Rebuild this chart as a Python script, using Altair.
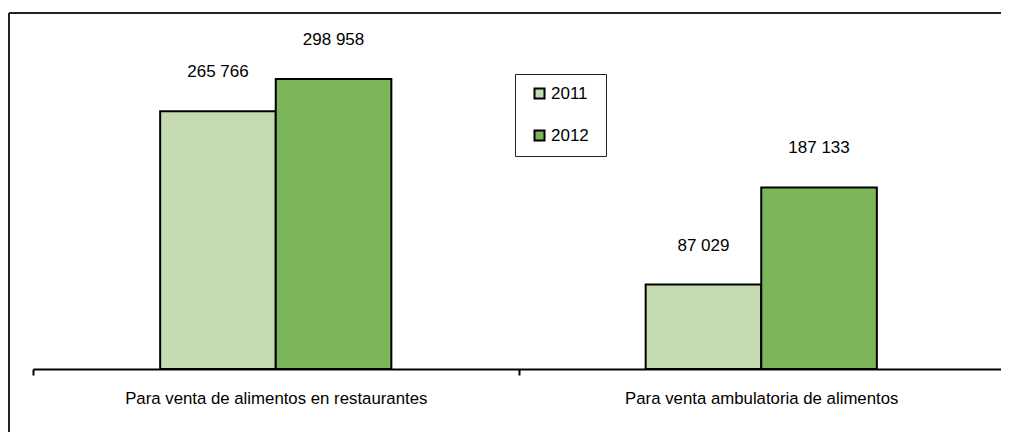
import altair as alt
import pandas as pd

categories = ["Para venta de alimentos en restaurantes", "Para venta ambulatoria de alimentos"]
years = ["2011", "2012"]
values_2011 = [265766, 87029]
values_2012 = [298958, 187133]
labels_2011 = ["265 766", "87 029"]
labels_2012 = ["298 958", "187 133"]

rows = []
for i, c in enumerate(categories):
    rows.append({"cat": c, "year": "2011", "value": values_2011[i], "label": labels_2011[i]})
    rows.append({"cat": c, "year": "2012", "value": values_2012[i], "label": labels_2012[i]})
df = pd.DataFrame(rows)

FONT = "Liberation Sans"
W, H = 992, 419
offset_domain = ["_l"] + years + ["_r"]

x_scale = alt.Scale(range=[24, 995], paddingInner=0, paddingOuter=0)
xo_scale = alt.Scale(domain=offset_domain, paddingInner=0, paddingOuter=0.1)
y_scale = alt.Scale(domain=[0, 367000], range=[356, 0], nice=False, zero=True)

x_enc = alt.X("cat:N", sort=categories, title=None, scale=x_scale,
              axis=alt.Axis(orient="bottom", offset=-63, tickBand="extent", labelAngle=0,
                            domainColor="black", domainWidth=2, tickColor="black", tickWidth=2,
                            tickSize=6, labelPadding=15, labelFont=FONT, labelFontSize=16.8,
                            labelColor="black", labelLimit=500, grid=False))
xo_enc = alt.XOffset("year:N", scale=xo_scale)
y_enc = alt.Y("value:Q", axis=None, scale=y_scale)

bars = alt.Chart(df).mark_bar(stroke="black", strokeWidth=2).encode(
    x=x_enc, xOffset=xo_enc, y=y_enc,
    color=alt.Color("year:N", sort=years,
                    scale=alt.Scale(domain=years, range=["#C4DBB2", "#7DB65A"]),
                    legend=alt.Legend(title="\u00a0", titleOrient="right", titlePadding=6,
                                      titleFontSize=2, titleColor="white",
                                      orient="none", legendX=506, legendY=61,
                                      fillColor="white", strokeColor="#222222",
                                      padding=11, symbolOffset=5, symbolType="square",
                                      symbolSize=100, symbolStrokeWidth=2,
                                      symbolStrokeColor="black", labelFont=FONT,
                                      labelFontSize=17, labelColor="black", labelOffset=3,
                                      rowPadding=23)),
)

text = alt.Chart(df).mark_text(font=FONT, fontSize=17, color="black",
                               baseline="middle", dy=-39).encode(
    x=alt.X("cat:N", sort=categories, scale=x_scale),
    xOffset=alt.XOffset("year:N", scale=xo_scale),
    y=alt.Y("value:Q", scale=y_scale), text="label:N")

frame_left = alt.Chart(df).mark_rule(color="#222222", strokeWidth=2).encode(
    x=alt.value(0), y=alt.value(0), y2=alt.value(H))
frame_top = alt.Chart(df).mark_rule(color="#222222", strokeWidth=2).encode(
    x=alt.value(0), x2=alt.value(W), y=alt.value(0))

chart = alt.layer(bars, text, frame_left, frame_top).properties(
    width=W, height=H,
    autosize=alt.AutoSizeParams(type="none"),
    padding={"left": 1, "top": 5, "right": 0, "bottom": 0},
).configure_view(stroke=None)

chart.save("out.html", embed_options={"renderer": "svg", "actions": False})
